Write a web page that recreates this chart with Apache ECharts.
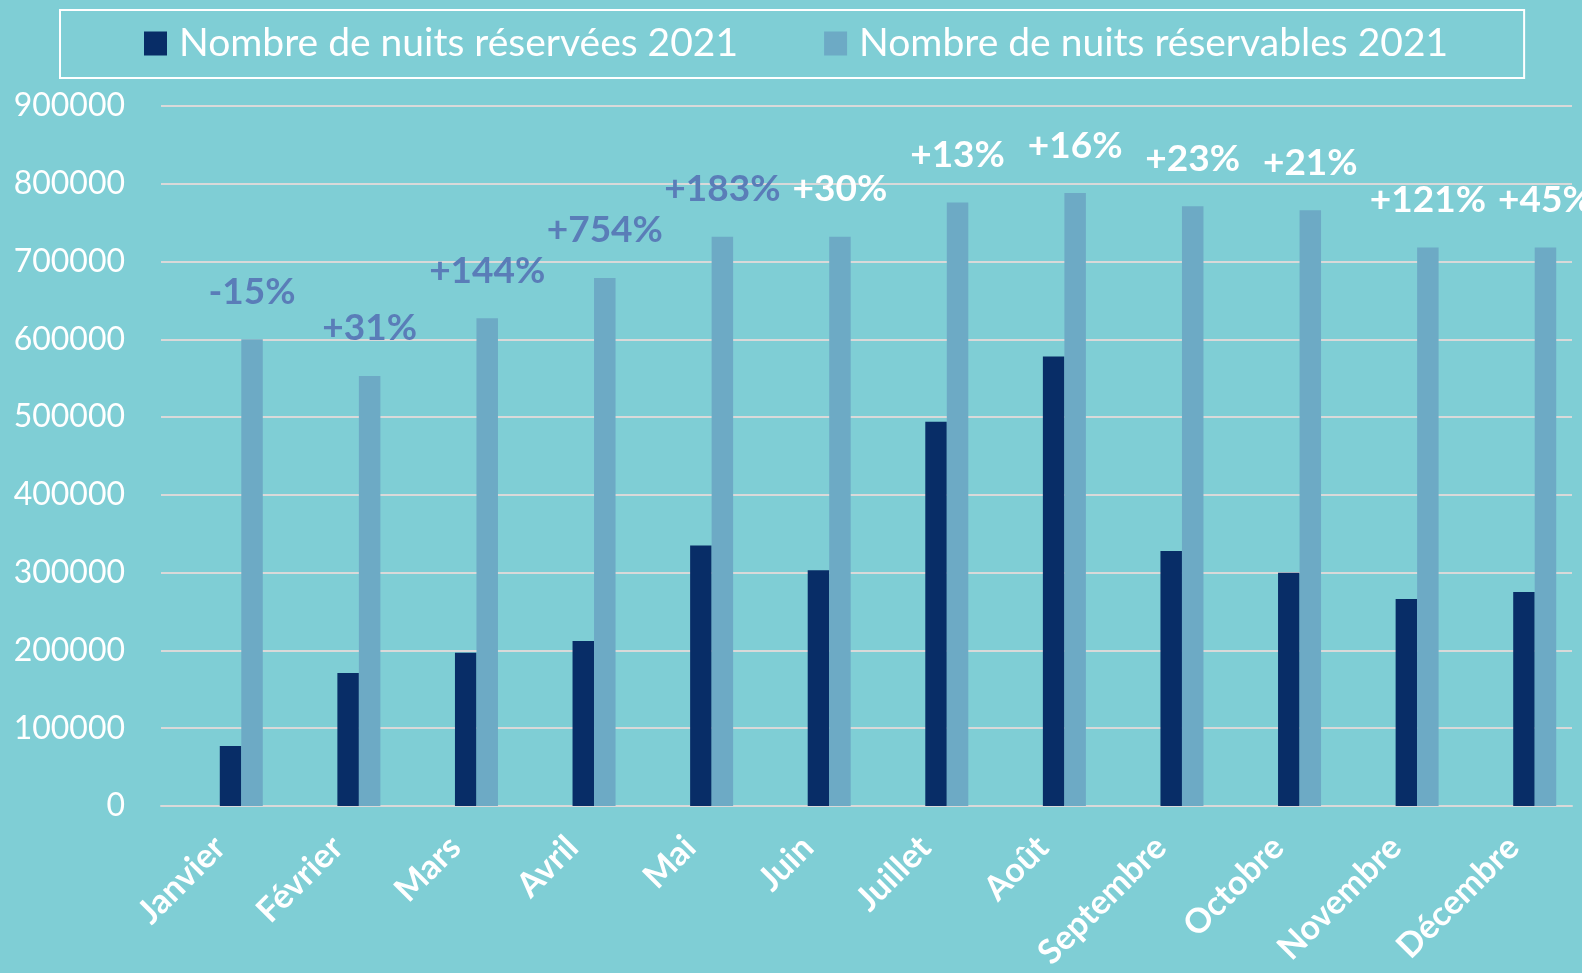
<!DOCTYPE html>
<html>
<head>
<meta charset="utf-8">
<title>Nuits réservées 2021</title>
<script src="https://cdn.jsdelivr.net/npm/echarts@6/dist/echarts.min.js"></script>
<style>
  html, body { margin: 0; padding: 0; background: #7fced5; }
  #chart { width: 1582px; height: 973px; }
</style>
</head>
<body>
<div id="chart"></div>
<script>
var months = ['Janvier', 'Février', 'Mars', 'Avril', 'Mai', 'Juin', 'Juillet', 'Août', 'Septembre', 'Octobre', 'Novembre', 'Décembre'];

// nuits réservées 2021
var booked = [77000, 171000, 197000, 212000, 335000, 303000, 494000, 578000, 328000, 300000, 266000, 275000];
// nuits réservables 2021
var bookable = [600000, 553000, 627000, 679000, 732000, 732000, 776000, 788000, 771000, 766000, 718000, 718000];
// évolution vs 2020
var evolution = ['-15%', '+31%', '+144%', '+754%', '+183%', '+30%', '+13%', '+16%', '+23%', '+21%', '+121%', '+45%'];

var yTicks = { min: 0, max: 900000, interval: 100000 };

var bgColor = '#7fced5';
var darkBlue = '#082d67';
var lightBlue = '#6daac5';
var gridColor = '#d9d9d9';
var pctDark = '#5a7db8';
var font = 'Lato';

var chart = echarts.init(document.getElementById('chart'));

// the source chart keeps two empty series in front (hidden 2020 data),
// so the visible pair sits on the right half of each category
function spacer(name) {
  return {
    name: name,
    type: 'bar',
    data: [],
    barWidth: 21.5,
    barGap: '0%',
    silent: true
  };
}

var option = {
  backgroundColor: bgColor,
  animation: false,
  textStyle: { fontFamily: font },
  legend: {
    data: ['Nombre de nuits réservées 2021', 'Nombre de nuits réservables 2021'],
    left: 60,
    top: 10,
    padding: [14, 76, 15, 84],
    borderColor: '#ffffff',
    borderWidth: 2,
    itemWidth: 23,
    itemHeight: 24,
    itemGap: 86,
    icon: 'rect',
    textStyle: {
      color: '#ffffff',
      fontSize: 39,
      fontFamily: font,
      padding: [0, 0, 0, 7]
    }
  },
  grid: {
    left: 161,
    right: 10,
    top: 106,
    bottom: 167,
    containLabel: false
  },
  xAxis: {
    type: 'category',
    data: months,
    axisLine: { lineStyle: { color: gridColor, width: 2 } },
    axisTick: { show: false },
    axisLabel: {
      color: '#ffffff',
      fontSize: 34,
      fontWeight: 'bold',
      fontFamily: font,
      rotate: 45,
      margin: 36,
      interval: 0
    }
  },
  yAxis: {
    type: 'value',
    min: yTicks.min,
    max: yTicks.max,
    interval: yTicks.interval,
    axisLine: { show: false },
    axisTick: { show: false },
    splitLine: { lineStyle: { color: gridColor, width: 2 } },
    axisLabel: {
      color: '#ffffff',
      fontSize: 32,
      fontFamily: font,
      margin: 36,
      formatter: function (v) { return String(v); }
    }
  },
  series: [
    spacer('_a'),
    spacer('_b'),
    {
      name: 'Nombre de nuits réservées 2021',
      type: 'bar',
      data: booked,
      barWidth: 21.5,
      barGap: '0%',
      itemStyle: { color: darkBlue }
    },
    {
      name: 'Nombre de nuits réservables 2021',
      type: 'bar',
      data: bookable.map(function (v, i) {
        // first five evolution labels are blue in the source, the rest white
        return { value: v, label: { color: i < 5 ? pctDark : '#ffffff' } };
      }),
      barWidth: 21.5,
      barGap: '0%',
      itemStyle: { color: lightBlue },
      label: {
        show: true,
        position: 'top',
        distance: 29,
        fontSize: 37,
        fontWeight: 'bold',
        fontFamily: font,
        formatter: function (p) { return evolution[p.dataIndex]; }
      }
    }
  ]
};

chart.setOption(option);
</script>
</body>
</html>
